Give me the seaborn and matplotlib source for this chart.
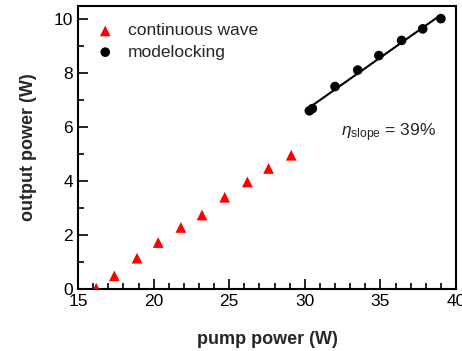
import numpy as np
import matplotlib
matplotlib.use("Agg")
import matplotlib.pyplot as plt
import seaborn as sns
from matplotlib.ticker import MultipleLocator

# === Data ===
cw_pump = [16.2, 17.4, 18.9, 20.3, 21.8, 23.2, 24.7, 26.2, 27.6, 29.1]
cw_out = [0.02, 0.48, 1.14, 1.72, 2.28, 2.74, 3.40, 3.97, 4.47, 4.96]

ml_pump = [30.3, 30.5, 32.0, 33.5, 34.9, 36.4, 37.8, 39.0]
ml_out = [6.61, 6.69, 7.51, 8.12, 8.66, 9.22, 9.65, 10.03]

sns.set_style("ticks")
plt.rcParams["font.family"] = ["Liberation Sans", "DejaVu Sans"]
plt.rcParams["mathtext.fontset"] = "custom"
plt.rcParams["mathtext.it"] = "Liberation Sans:italic"
plt.rcParams["mathtext.rm"] = "Liberation Sans"

fig = plt.figure(figsize=(4.62, 3.51), dpi=100)
ax = fig.add_axes([0.169, 0.177, 0.818, 0.806])

sns.scatterplot(x=cw_pump, y=cw_out, marker="^", color="red", s=60,
                edgecolor="none", label="continuous wave", ax=ax, zorder=3)
sns.scatterplot(x=ml_pump, y=ml_out, marker="o", color="black", s=48,
                edgecolor="none", label="modelocking", ax=ax, zorder=3)

# linear fit for slope efficiency
k, b = np.polyfit(ml_pump, ml_out, 1)
fit_x = np.array([min(ml_pump), max(ml_pump)])
sns.lineplot(x=fit_x, y=k * fit_x + b, color="black", lw=1.5, ax=ax, legend=False)

ax.text(32.4, 5.65, r"$\eta_{\mathrm{slope}}$ = 39%", fontsize=12.5)

ax.set_xlim(15, 40)
ax.set_ylim(0, 10.5)
ax.xaxis.set_major_locator(MultipleLocator(5))
ax.xaxis.set_minor_locator(MultipleLocator(1))
ax.yaxis.set_major_locator(MultipleLocator(2))
ax.yaxis.set_minor_locator(MultipleLocator(1))
ax.tick_params(which="both", direction="in", top=False, right=False,
               labelsize=12.5, width=1.2, colors="black")
ax.tick_params(which="major", length=7)
ax.tick_params(which="minor", length=4)
for sp in ax.spines.values():
    sp.set_linewidth(1.5)
    sp.set_color("black")

ax.set_xlabel("pump power (W)", fontsize=13, fontweight="bold", labelpad=16)
ax.set_ylabel("output power (W)", fontsize=13, fontweight="bold", labelpad=12)

ax.legend(loc="upper left", frameon=False, fontsize=12.5, handletextpad=0.3,
          borderaxespad=0.6, labelspacing=0.35, bbox_to_anchor=(-0.02, 1.0))

fig.savefig("out.png", dpi=100)
